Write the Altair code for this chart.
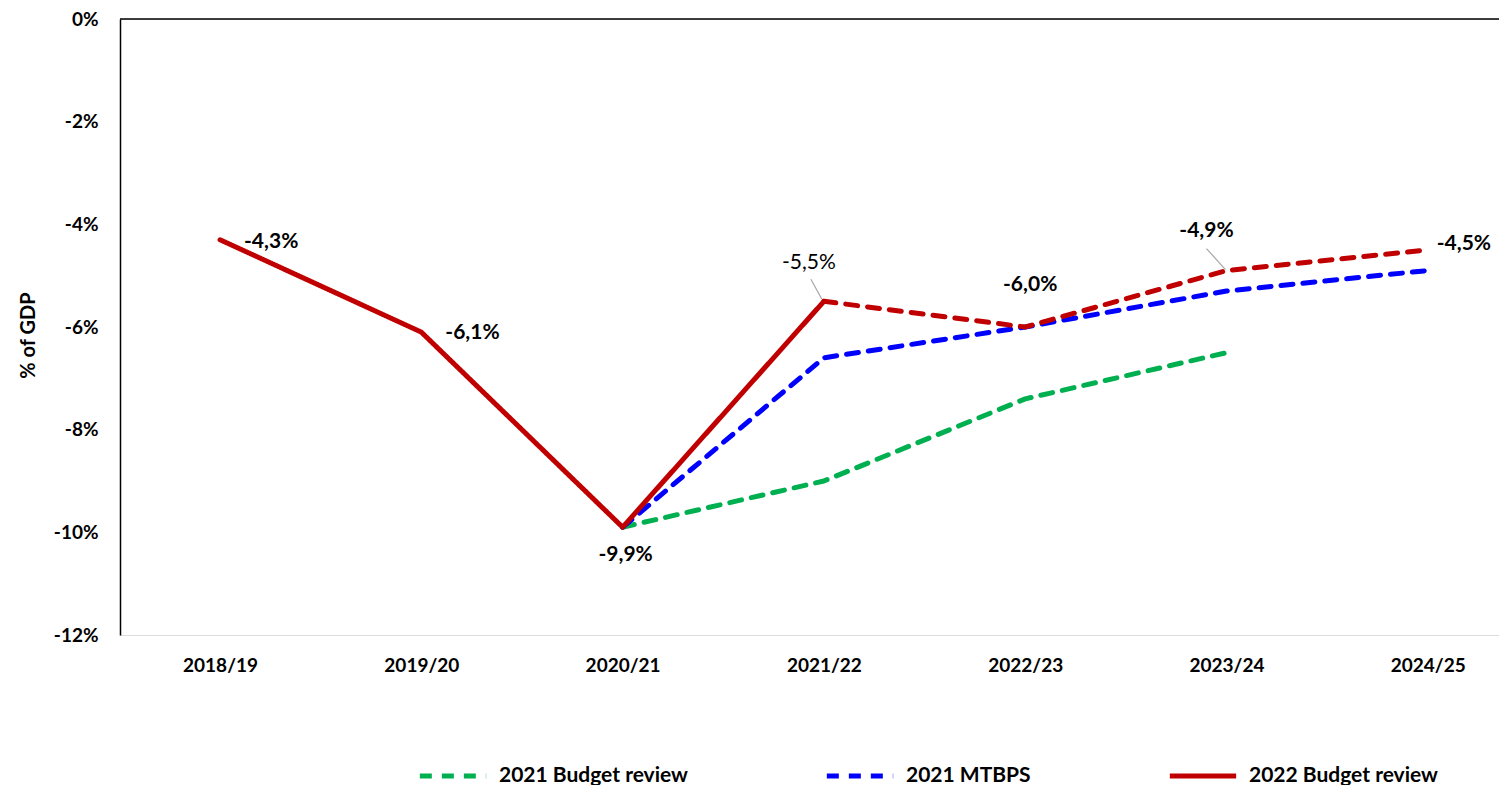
import altair as alt
import pandas as pd

categories = ["2018/19", "2019/20", "2020/21", "2021/22", "2022/23", "2023/24", "2024/25"]
series_names = ["2021 Budget review", "2021 MTBPS", "2022 Budget review"]
budget_2021 = [None, None, -9.9, -9.0, -7.4, -6.5, None]
mtbps_2021 = [None, None, -9.9, -6.6, -6.0, -5.3, -4.9]
budget_2022 = [-4.3, -6.1, -9.9, -5.5, -6.0, -4.9, -4.5]
red_solid_last = 3  # index of last actual (solid) point of the 2022 Budget review line

label_cats = ["2018/19", "2019/20", "2020/21", "2021/22", "2022/23", "2023/24", "2024/25"]
label_values = [-4.3, -6.1, -9.9, -5.5, -6.0, -4.9, -4.5]
label_texts = ["-4,3%", "-6,1%", "-9,9%", "-5,5%", "-6,0%", "-4,9%", "-4,5%"]
leader_cats = ["2021/22", "2023/24"]
leader_values = [-5.5, -4.9]

colors = ["#00B050", "#0000FF", "#C00000"]
dash = [12, 10]
FONT = "Lato"
LW = 5

rows = []
for name, vals in zip(series_names, [budget_2021, mtbps_2021, budget_2022]):
    for i, v in enumerate(vals):
        if v is None:
            continue
        if name == "2022 Budget review" and i > red_solid_last:
            continue
        rows.append({"series": name, "idx": i, "cat": categories[i], "value": v})
main_df = pd.DataFrame(rows)

fc_df = pd.DataFrame([
    {"idx": i, "cat": categories[i], "value": budget_2022[i]}
    for i in range(red_solid_last, len(categories))
])

label_expr = "[" + ",".join("'%s'" % c for c in categories) + "][datum.value]"

x_enc = alt.X(
    "idx:Q",
    scale=alt.Scale(domain=[-0.497, 6.354], nice=False, zero=False),
    axis=alt.Axis(
        title=None, values=list(range(len(categories))), labelExpr=label_expr,
        domain=False, ticks=False, grid=False, labelPadding=21,
        labelFontSize=19, labelFontWeight="bold", labelColor="#000000",
        labelFont=FONT,
    ),
)
y_enc = alt.Y(
    "value:Q",
    scale=alt.Scale(domain=[-12, 0], nice=False),
    axis=alt.Axis(
        title="% of GDP", values=list(range(-12, 1, 2)),
        labelExpr="datum.value + '%'", domain=True, domainColor="#000000",
        domainWidth=1.5, ticks=False, grid=False, labelPadding=22,
        labelFontSize=19, labelFontWeight="bold", labelColor="#000000",
        labelFont=FONT, titleFont=FONT, titleFontSize=20, titleFontWeight="bold",
        titleColor="#000000", titleX=-92, titleY=316, titleAngle=-90,
        titleBaseline="middle", titleAlign="center",
    ),
)

main = alt.Chart(main_df).mark_line(
    strokeWidth=LW, strokeCap="round", strokeJoin="round"
).encode(
    x=x_enc,
    y=y_enc,
    color=alt.Color(
        "series:N",
        scale=alt.Scale(domain=series_names, range=colors),
        legend=alt.Legend(
            title=None, orient="none", legendX=297, legendY=721,
            direction="horizontal", columns=3, columnPadding=128,
            gridAlign="none",
            symbolType="stroke", symbolSize=4400, symbolStrokeWidth=LW,
            labelFontSize=21, labelFontWeight="bold", labelFont=FONT,
            labelColor="#000000", labelOffset=10, labelLimit=400,
        ),
    ),
    strokeDash=alt.StrokeDash(
        "series:N",
        scale=alt.Scale(domain=series_names, range=[dash, dash, [1, 0]]),
    ),
    order=alt.Order("idx:Q"),
)

zero_rule = alt.Chart(pd.DataFrame({"value": [0]})).mark_rule(
    color="#000000", strokeWidth=1.5
).encode(y=alt.Y("value:Q"))

forecast = alt.Chart(fc_df).mark_line(
    strokeWidth=LW, strokeCap="round", strokeJoin="round",
    color=colors[2], strokeDash=dash,
).encode(x=alt.X("idx:Q"), y=alt.Y("value:Q"))

label_style = {
    "-4,3%": dict(dx=24, dy=2, align="left", fontWeight="bold"),
    "-6,1%": dict(dx=24, dy=1, align="left", fontWeight="bold"),
    "-9,9%": dict(dx=3, dy=28, align="center", fontWeight="bold"),
    "-5,5%": dict(dx=-15, dy=-38, align="center", fontWeight="normal"),
    "-6,0%": dict(dx=5, dy=-42, align="center", fontWeight="bold"),
    "-4,9%": dict(dx=-20, dy=-40, align="center", fontWeight="bold"),
    "-4,5%": dict(dx=9, dy=-6, align="left", fontWeight="bold"),
}

text_layers = []
for c, v, t in zip(label_cats, label_values, label_texts):
    df = pd.DataFrame({"idx": [categories.index(c)], "value": [v], "text": [t]})
    st = label_style[t]
    text_layers.append(
        alt.Chart(df).mark_text(
            font=FONT, fontSize=21, color="#000000", baseline="middle", **st
        ).encode(x="idx:Q", y="value:Q", text="text:N")
    )

leader_df = pd.DataFrame({
    "idx": [categories.index(c) for c in leader_cats],
    "value": leader_values,
})
leaders = []
leader_offsets = [(-2, -2, -13, -22), (-1, -1, -20, -22)]
for i, (xo, yo, x2o, y2o) in enumerate(leader_offsets):
    leaders.append(
        alt.Chart(leader_df.iloc[[i]]).mark_rule(
            color="#A6A6A6", strokeWidth=1.2,
            xOffset=xo, yOffset=yo, x2Offset=x2o, y2Offset=y2o,
        ).encode(x="idx:Q", x2="idx:Q", y="value:Q", y2="value:Q")
    )

chart = alt.layer(
    main, zero_rule, forecast, *leaders, *text_layers
).properties(
    width=1379, height=616,
    autosize=alt.AutoSizeParams(type="none"),
    padding={"left": 112, "top": 11, "right": 0, "bottom": 150},
).configure_view(strokeWidth=0).configure(font=FONT)

chart.save("out.html", embed_options={"renderer": "svg", "actions": False})
